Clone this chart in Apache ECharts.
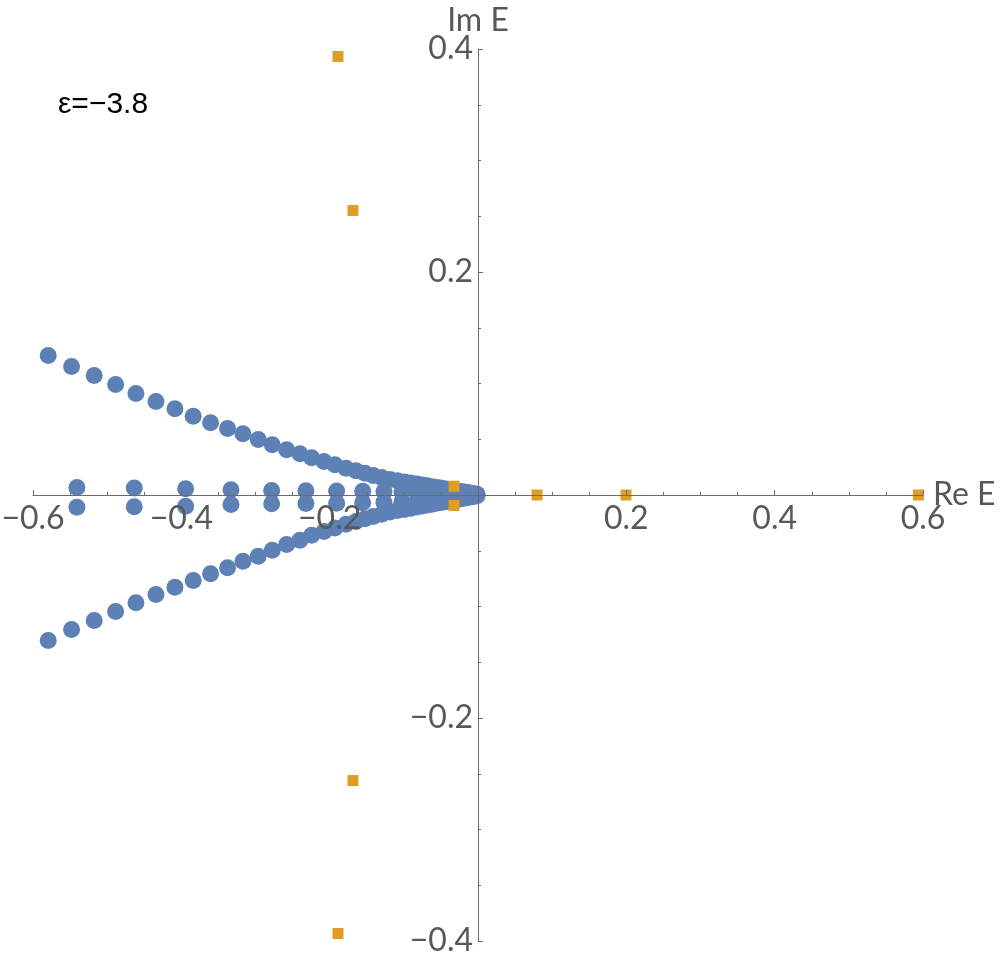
<!DOCTYPE html>
<html>
<head>
<meta charset="utf-8">
<script src="https://cdn.jsdelivr.net/npm/echarts@6/dist/echarts.min.js"></script>
<style>
html, body { margin: 0; padding: 0; background: #fff; }
#spectrum { width: 1000px; height: 963px; }
</style>
</head>
<body>
<div id="spectrum"></div>
<script>
// upper / lower branches of the blue spectrum (same Re E for both)
var branchRe = [-0.5795, -0.5480, -0.5175, -0.4886, -0.4612, -0.4342, -0.4086, -0.3840, -0.3606, -0.3377, -0.3169, -0.2963,
    -0.2774, -0.2580, -0.2401, -0.2243, -0.2077, -0.1929, -0.1780, -0.1645, -0.1524, -0.1412, -0.1299, -0.1187,
    -0.1086, -0.0991, -0.0904, -0.0823, -0.0748, -0.0681, -0.0620, -0.0560, -0.0506, -0.0459, -0.0411, -0.0371,
    -0.0330, -0.0297, -0.0263, -0.0229, -0.0202, -0.0175, -0.0148, -0.0121, -0.0094, -0.0067, -0.0040, -0.0013];
var upperIm = [0.1251, 0.1152, 0.1072, 0.0991, 0.0910, 0.0839, 0.0773, 0.0707, 0.0648, 0.0596, 0.0549, 0.0498,
    0.0450, 0.0405, 0.0370, 0.0334, 0.0300, 0.0271, 0.0240, 0.0217, 0.0196, 0.0175, 0.0157, 0.0139,
    0.0127, 0.0117, 0.0107, 0.0098, 0.0090, 0.0082, 0.0075, 0.0068, 0.0062, 0.0057, 0.0051, 0.0047,
    0.0042, 0.0039, 0.0034, 0.0030, 0.0028, 0.0024, 0.0022, 0.0018, 0.0015, 0.0012, 0.0009, 0.0006];
var lowerIm = [-0.1305, -0.1206, -0.1126, -0.1045, -0.0967, -0.0892, -0.0827, -0.0767, -0.0707, -0.0653, -0.0595, -0.0549,
    -0.0495, -0.0444, -0.0405, -0.0361, -0.0327, -0.0295, -0.0263, -0.0238, -0.0214, -0.0192, -0.0172, -0.0153,
    -0.0140, -0.0129, -0.0118, -0.0108, -0.0099, -0.0090, -0.0082, -0.0075, -0.0068, -0.0062, -0.0056, -0.0051,
    -0.0046, -0.0042, -0.0037, -0.0033, -0.0030, -0.0026, -0.0023, -0.0019, -0.0016, -0.0013, -0.0009, -0.0006];

// the pairs sitting just above / below the real axis
var midRe = [-0.5408, -0.4635, -0.3942, -0.3331, -0.2782, -0.2320, -0.1906, -0.1555, -0.1268, -0.1025,
    -0.0823, -0.0647, -0.0499, -0.0378, -0.0270, -0.0189, -0.0121, -0.0067, -0.0027];
var midImUp = [0.0067, 0.0063, 0.0056, 0.0047, 0.0040, 0.0038, 0.0036, 0.0034, 0.0032, 0.0028,
    0.0025, 0.0022, 0.0019, 0.0016, 0.0013, 0.0010, 0.0007, 0.0005, 0.0003];
var midImDown = [-0.0110, -0.0106, -0.0100, -0.0085, -0.0079, -0.0077, -0.0074, -0.0070, -0.0065, -0.0058,
    -0.0052, -0.0046, -0.0040, -0.0034, -0.0028, -0.0022, -0.0016, -0.0010, -0.0005];

// orange squares
var sqRe = [-0.1888, -0.1686, -0.1686, -0.1888, -0.0324, -0.0324, 0.0796, 0.1996, 0.5938];
var sqIm = [0.3933, 0.2552, -0.2561, -0.3933, 0.0079, -0.0094, 0, 0, 0];

var xTicks = [-0.6, 0.6, 0.2];
var yTicks = [-0.4, 0.4, 0.2];
var epsLabel = 'ε=−3.8';

function pairs(xs, ys) {
    var out = [];
    for (var i = 0; i < xs.length; i++) out.push([xs[i], ys[i]]);
    return out;
}
var blueData = pairs(branchRe, upperIm)
    .concat(pairs(branchRe, lowerIm))
    .concat(pairs(midRe, midImUp))
    .concat(pairs(midRe, midImDown));
var orangeData = pairs(sqRe, sqIm);

function tickFmt(v) {
    if (Math.abs(v) < 1e-9) return '';
    return (v < 0 ? '\u2212' : '') + Math.abs(v).toFixed(1);
}

var axisGrey = '#6b6b6b';
var labelGrey = '#585858';
var W = 1000, H = 963;
var gL = 33, gR = 77, gT = 49, gB = 22;
// axes cross at the origin: shift them into the middle of the grid
var xOffset = -(H - gT - gB) * (yTicks[0] / (yTicks[0] - yTicks[1]));
var yOffset = -(W - gL - gR) * (xTicks[0] / (xTicks[0] - xTicks[1]));

var option = {
    animation: false,
    backgroundColor: '#fff',
    grid: {
        left: gL,
        right: gR,
        top: gT,
        bottom: gB,
        containLabel: false,
        outerBoundsMode: 'none'
    },
    xAxis: {
        type: 'value',
        position: 'bottom',
        offset: xOffset,
        z: 5,
        min: xTicks[0],
        max: xTicks[1],
        interval: xTicks[2],
        name: 'Re E',
        nameLocation: 'end',
        nameGap: 10,
        nameMoveOverlap: false,
        nameTextStyle: { fontFamily: 'Lato', fontSize: 32, color: labelGrey, align: 'left', verticalAlign: 'middle' },
        axisLine: { onZero: false, lineStyle: { color: axisGrey, width: 1 } },
        axisTick: { inside: true, length: 5, lineStyle: { color: axisGrey } },
        minorTick: { show: true, splitNumber: 4, length: 3, lineStyle: { color: axisGrey } },
        splitLine: { show: false },
        axisLabel: { formatter: tickFmt, fontFamily: 'Lato', fontSize: 32, color: labelGrey, margin: 8, showMinLabel: true, showMaxLabel: true }
    },
    yAxis: {
        type: 'value',
        position: 'left',
        offset: yOffset,
        z: 5,
        min: yTicks[0],
        max: yTicks[1],
        interval: yTicks[2],
        name: 'Im E',
        nameLocation: 'end',
        nameGap: 12,
        nameMoveOverlap: false,
        nameTextStyle: { fontFamily: 'Lato', fontSize: 32, color: labelGrey },
        axisLine: { onZero: false, lineStyle: { color: axisGrey, width: 1 } },
        axisTick: { inside: true, length: 5, lineStyle: { color: axisGrey } },
        minorTick: { show: true, splitNumber: 4, length: 3, lineStyle: { color: axisGrey } },
        splitLine: { show: false },
        axisLabel: { formatter: tickFmt, fontFamily: 'Lato', fontSize: 32, color: labelGrey, margin: 5, showMinLabel: true, showMaxLabel: true }
    },
    graphic: [{
        type: 'text',
        left: 58,
        top: 90,
        style: { text: epsLabel, font: '30px "Liberation Sans"', fill: '#000' }
    }],
    series: [
        {
            type: 'scatter',
            symbol: 'circle',
            symbolSize: 17,
            z: 2,
            itemStyle: { color: '#5E81B5', opacity: 1 },
            data: blueData
        },
        {
            type: 'scatter',
            symbol: 'rect',
            symbolSize: 11,
            z: 3,
            itemStyle: { color: '#E19C24', opacity: 1 },
            data: orangeData
        }
    ]
};

window.onload = function () {
    var myChart = echarts.init(document.getElementById('spectrum'));
    myChart.setOption(option, true);
};
</script>
</body>
</html>
